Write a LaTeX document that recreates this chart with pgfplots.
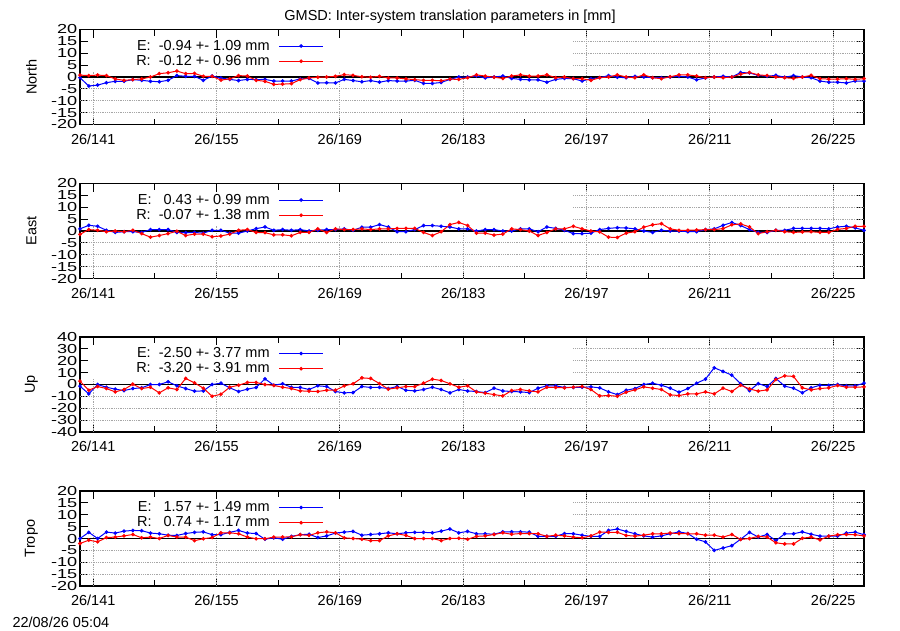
\documentclass[border=0pt]{standalone}
\usepackage{fontspec}
\setmainfont{Liberation Sans}
\usepackage{graphicx}
\usepackage{pgfplots}
\usepackage{pgfplotstable}
\pgfplotsset{compat=1.18}

% day (decimal), E = Galileo, R = Glonass
\pgfplotstableread{
x E R
139.5 -0.3 0.8
140.5 -3.8 0.6
141.5 -3.4 0.8
142.5 -2.4 0.6
143.5 -1.8 -0.8
144.5 -1.8 -1.4
145.5 -1.1 -1.1
146.5 -1.4 -0.8
147.5 -1.8 0.0
148.5 -2.0 1.4
149.5 -1.4 1.8
150.5 0.6 2.5
151.5 0.3 1.4
152.5 0.3 1.5
153.5 -1.4 0.3
154.5 0.4 0.3
155.5 -0.4 -1.3
156.5 -1.0 -0.8
157.5 -1.5 0.6
158.5 -1.0 0.4
159.5 -1.1 -1.4
160.5 -1.0 -1.8
161.5 -1.7 -3.1
162.5 -1.7 -3.0
163.5 -1.7 -2.8
164.5 -0.8 -1.1
165.5 -0.6 -0.4
166.5 -2.5 -0.1
167.5 -2.4 0.0
168.5 -2.5 0.3
169.5 -1.0 1.0
170.5 -1.5 0.7
171.5 -2.0 0.1
172.5 -1.5 -0.1
173.5 -2.2 0.3
174.5 -1.5 -0.4
175.5 -1.7 -0.4
176.5 -1.7 -0.8
177.5 -1.4 -1.1
178.5 -2.7 -1.4
179.5 -2.7 -1.4
180.5 -2.3 -1.6
181.5 -1.0 -0.9
182.5 0.0 -1.0
183.5 0.0 -0.3
184.5 0.4 0.9
185.5 -0.4 0.4
186.5 0.0 -0.1
187.5 0.4 -0.6
188.5 -0.6 0.4
189.5 -1.0 0.9
190.5 -1.2 0.4
191.5 -1.2 0.4
192.5 -2.2 0.9
193.5 -1.0 -0.3
194.5 -0.6 0.0
195.5 -0.7 -0.7
196.5 -1.7 -0.7
197.5 -0.7 -1.4
198.5 -0.3 -0.3
199.5 0.6 0.0
200.5 -0.1 0.9
201.5 -0.3 0.0
202.5 0.3 -0.3
203.5 0.0 0.9
204.5 -0.3 -0.3
205.5 -0.3 -0.7
206.5 0.0 0.1
207.5 0.3 0.9
208.5 0.0 0.9
209.5 -1.2 0.4
210.5 -0.4 -0.3
211.5 0.0 0.0
212.5 0.3 -0.3
213.5 0.0 0.0
214.5 1.9 1.2
215.5 1.7 1.9
216.5 0.7 0.9
217.5 0.3 0.6
218.5 0.7 0.0
219.5 -0.1 -0.3
220.5 0.6 -0.6
221.5 0.0 0.0
222.5 -0.3 0.7
223.5 -1.7 -0.7
224.5 -2.2 -0.9
225.5 -2.2 -0.9
226.5 -2.5 -0.7
227.5 -1.7 -1.0
228.5 -1.7 -0.7
}\tabnorth

\pgfplotstableread{
x E R
139.5 0.9 -1.4
140.5 2.4 0.6
141.5 2.0 0.3
142.5 0.3 -0.3
143.5 -0.6 0.0
144.5 -0.3 -0.3
145.5 -0.3 0.3
146.5 -0.6 -1.1
147.5 0.6 -2.6
148.5 0.6 -1.9
149.5 0.6 -1.1
150.5 -0.6 -0.1
151.5 -0.7 -1.9
152.5 -0.6 -1.3
153.5 -0.9 -1.3
154.5 0.3 -2.4
155.5 0.3 -2.1
156.5 -0.9 -1.3
157.5 -0.9 0.3
158.5 0.0 0.6
159.5 1.0 -0.6
160.5 1.7 -0.7
161.5 0.3 -1.6
162.5 0.6 -1.6
163.5 0.3 -2.0
164.5 0.6 -0.6
165.5 0.0 -0.6
166.5 0.3 0.9
167.5 0.6 -0.6
168.5 0.6 0.9
169.5 0.9 0.6
170.5 0.3 0.6
171.5 1.6 0.9
172.5 1.6 0.6
173.5 2.7 0.9
174.5 1.7 0.9
175.5 -0.3 1.1
176.5 -0.3 1.1
177.5 0.6 1.1
178.5 2.3 -0.6
179.5 2.3 -1.9
180.5 2.0 -0.3
181.5 1.7 2.7
182.5 0.9 3.6
183.5 0.9 2.3
184.5 0.0 -0.9
185.5 0.6 -0.9
186.5 0.6 -1.7
187.5 0.0 -1.3
188.5 0.0 0.9
189.5 0.9 0.6
190.5 0.9 0.0
191.5 -0.3 -1.9
192.5 1.7 -0.6
193.5 1.1 0.9
194.5 0.3 0.9
195.5 -1.1 2.0
196.5 -1.1 0.9
197.5 -0.9 0.0
198.5 0.6 -0.4
199.5 1.1 -2.6
200.5 1.4 -2.7
201.5 1.3 -0.9
202.5 0.9 -0.3
203.5 0.0 1.6
204.5 -0.6 2.6
205.5 0.3 3.1
206.5 0.0 0.9
207.5 0.0 0.3
208.5 -0.3 0.3
209.5 -0.3 0.4
210.5 0.6 0.6
211.5 0.9 0.6
212.5 2.4 1.0
213.5 3.6 2.6
214.5 2.3 3.0
215.5 0.6 1.7
216.5 -0.6 -1.1
217.5 -0.6 -0.3
218.5 0.3 0.3
219.5 0.3 -0.3
220.5 1.1 -0.6
221.5 1.1 -0.4
222.5 1.1 -0.3
223.5 1.1 -0.6
224.5 0.9 -0.6
225.5 1.7 0.7
226.5 2.0 1.1
227.5 1.3 2.0
228.5 0.3 2.0
}\tabeast

\pgfplotstableread{
x E R
139.5 -1.4 2.8
140.5 -7.9 -4.8
141.5 0.0 -1.7
142.5 -2.3 -3.4
143.5 -3.9 -6.2
144.5 -5.1 -4.2
145.5 -3.4 0.3
146.5 -2.8 -3.4
147.5 0.0 -2.3
148.5 0.0 -7.0
149.5 2.3 -2.8
150.5 -1.1 -4.2
151.5 -3.4 5.1
152.5 -5.6 1.4
153.5 -5.4 -3.1
154.5 0.0 -9.9
155.5 1.1 -8.2
156.5 -2.8 -2.3
157.5 -5.9 -0.6
158.5 -3.9 1.7
159.5 -2.5 1.7
160.5 4.8 0.0
161.5 -0.6 -0.8
162.5 0.6 -2.3
163.5 -2.3 -3.4
164.5 -2.5 -5.4
165.5 -4.2 -5.6
166.5 -1.1 -5.9
167.5 -1.7 -4.8
168.5 -5.9 -4.8
169.5 -7.0 -1.1
170.5 -6.8 0.6
171.5 -1.7 5.6
172.5 -2.5 5.1
173.5 -2.5 0.8
174.5 -3.4 -3.9
175.5 -1.7 -2.8
176.5 -4.8 -1.7
177.5 -5.4 -1.7
178.5 -4.2 1.1
179.5 -2.3 4.5
180.5 -4.2 3.4
181.5 -7.0 0.6
182.5 -4.2 -2.3
183.5 -5.4 -1.1
184.5 -5.9 -6.2
185.5 -6.8 -7.3
186.5 -3.1 -8.5
187.5 -5.4 -9.6
188.5 -5.9 -5.1
189.5 -6.2 -4.2
190.5 -6.8 -5.4
191.5 -3.1 -6.2
192.5 -1.1 -2.3
193.5 -1.1 -2.5
194.5 -2.5 -2.8
195.5 -2.5 -2.3
196.5 -2.3 -1.7
197.5 -2.0 -4.2
198.5 -2.8 -9.6
199.5 -6.2 -9.3
200.5 -8.5 -9.9
201.5 -4.8 -6.5
202.5 -3.4 -4.5
203.5 0.0 -2.0
204.5 1.1 -3.1
205.5 -0.6 -4.2
206.5 -3.1 -8.7
207.5 -6.5 -9.3
208.5 -3.4 -7.9
209.5 1.1 -7.9
210.5 4.5 -6.2
211.5 14.1 -7.9
212.5 11.0 -3.1
213.5 7.9 -5.9
214.5 0.6 -0.6
215.5 -5.1 -3.7
216.5 0.8 -5.6
217.5 -1.7 -4.5
218.5 5.1 4.2
219.5 -1.4 7.3
220.5 -3.1 6.8
221.5 -7.0 -2.8
222.5 -2.8 -4.5
223.5 -0.6 -3.4
224.5 -0.8 -2.8
225.5 0.0 -0.8
226.5 -1.1 -2.3
227.5 -1.1 -2.3
228.5 1.1 -2.0
}\tabup

\pgfplotstableread{
x E R
139.5 0.0 -2.1
140.5 2.6 -0.7
141.5 0.0 -1.4
142.5 2.7 0.4
143.5 2.3 0.6
144.5 3.1 1.1
145.5 3.4 1.7
146.5 3.3 0.3
147.5 2.3 0.6
148.5 2.0 0.0
149.5 1.4 1.3
150.5 1.3 0.6
151.5 2.1 0.6
152.5 2.6 -0.9
153.5 2.8 -0.1
154.5 1.6 0.4
155.5 1.6 2.4
156.5 2.6 2.4
157.5 3.4 2.0
158.5 2.3 0.6
159.5 2.1 -0.1
160.5 -0.3 -0.1
161.5 0.3 0.6
162.5 -0.3 0.6
163.5 0.9 0.7
164.5 1.6 1.6
165.5 1.8 1.3
166.5 0.4 2.4
167.5 1.1 2.8
168.5 2.3 2.4
169.5 2.7 0.3
170.5 3.0 0.0
171.5 1.4 -0.3
172.5 1.7 -0.9
173.5 2.0 -0.9
174.5 2.4 1.1
175.5 2.0 2.0
176.5 2.4 1.3
177.5 2.6 0.0
178.5 2.6 0.0
179.5 2.4 0.0
180.5 3.1 -0.9
181.5 4.0 0.0
182.5 2.4 0.1
183.5 3.0 -0.3
184.5 2.0 0.9
185.5 2.0 1.1
186.5 1.8 1.7
187.5 2.8 2.4
188.5 2.8 1.8
189.5 2.8 2.1
190.5 2.7 2.1
191.5 0.9 2.0
192.5 0.9 0.9
193.5 0.9 1.4
194.5 2.1 1.1
195.5 2.0 0.6
196.5 1.4 0.3
197.5 0.9 1.1
198.5 0.9 2.7
199.5 3.4 2.6
200.5 4.0 2.6
201.5 3.0 1.3
202.5 2.0 1.0
203.5 1.1 1.4
204.5 0.6 2.0
205.5 1.1 2.0
206.5 2.0 2.3
207.5 2.8 2.1
208.5 2.1 2.0
209.5 -0.3 2.0
210.5 -1.4 1.4
211.5 -5.0 1.4
212.5 -4.0 0.6
213.5 -3.0 1.7
214.5 -0.3 -0.4
215.5 2.6 0.0
216.5 0.6 0.9
217.5 1.7 0.6
218.5 -0.9 -1.8
219.5 2.0 -2.3
220.5 2.0 -2.3
221.5 2.8 0.1
222.5 1.8 0.6
223.5 1.0 -0.6
224.5 1.0 1.0
225.5 1.0 1.6
226.5 2.3 1.7
227.5 2.7 1.6
228.5 1.6 1.1
}\tabtropo

\pgfplotsset{
  gm/.style={
    scale only axis, width=784pt, height=95pt,
    xmin=139.5, xmax=228.5,
    xtick={141,155,169,183,197,211,225},
    xticklabels={26/141,26/155,26/169,26/183,26/197,26/211,26/225},
    minor xtick={148,162,176,190,204,218},
    tick align=inside,
    major tick length=8pt, minor tick length=6pt,
    every tick/.append style={black, line width=0.8pt},
    axis line style={line width=1.8pt},
    xticklabel style={anchor=base, inner sep=0pt, yshift=-19.5pt},
    yticklabel style={anchor=east, inner sep=0pt, xshift=-2.5pt},
    yticklabel={\scalebox{1.25}[0.9]{\pgfmathprintnumber[assume math mode=true]{\tick}}},
    legend style={at={(rel axis cs:0.311,0.9)}, anchor=north east,
      draw=none, fill=none, inner sep=0pt, row sep=1.5pt, column sep=8pt,
      nodes={inner sep=1pt}},
    legend cell align=right, legend plot pos=right,
    legend image code/.code={\draw[mark repeat=2,mark phase=2,##1]
      plot coordinates {(0pt,0pt) (22pt,0pt) (44pt,0pt)};},
  },
  eser/.style={blue, line width=1pt, mark=*, mark size=1.3pt, mark options={solid}},
  rser/.style={red, line width=1pt, mark=*, mark size=1.3pt, mark options={solid}},
}
\tikzset{gridl/.style={gray!70, densely dotted, line width=0.8pt}}

% grid of one panel: #1,#2,#3 = grid levels, #4 = lower edge of the key box, #5 = ymax
\newcommand\panelgrid[5]{%
  \draw[gridl] (axis cs:195.5,#1) -- (axis cs:228.5,#1);
  \draw[gridl] (axis cs:195.5,#2) -- (axis cs:228.5,#2);
  \draw[gridl] (axis cs:195.5,#3) -- (axis cs:228.5,#3);
  \draw[gridl] (axis cs:139.5,-#1) -- (axis cs:228.5,-#1);
  \draw[gridl] (axis cs:139.5,-#2) -- (axis cs:228.5,-#2);
  \draw[gridl] (axis cs:139.5,-#3) -- (axis cs:228.5,-#3);
  \draw[gridl] (axis cs:141,-#5) -- (axis cs:141,#4);
  \draw[gridl] (axis cs:155,-#5) -- (axis cs:155,#4);
  \draw[gridl] (axis cs:169,-#5) -- (axis cs:169,#4);
  \draw[gridl] (axis cs:183,-#5) -- (axis cs:183,#4);
  \draw[gridl] (axis cs:197,-#5) -- (axis cs:197,#5);
  \draw[gridl] (axis cs:211,-#5) -- (axis cs:211,#5);
  \draw[gridl] (axis cs:225,-#5) -- (axis cs:225,#5);
  \draw[black, line width=1.6pt] (axis cs:139.5,0) -- (axis cs:228.5,0);
}

\begin{document}
\begin{tikzpicture}[font=\fontsize{14.5}{17}\selectfont]
\useasboundingbox (0,0) rectangle (900pt,-630pt);

\node[anchor=base] at (450pt,-20pt) {GMSD: Inter-system translation parameters in [mm]};
\node[anchor=base west] at (9pt,-627.5pt) {22/08/26 05:04};

\begin{axis}[gm, at={(80pt,-29.5pt)}, anchor=north west,
  ymin=-20, ymax=20, ytick={-20,-15,...,20}]
  \panelgrid{5}{10}{15}{2.5}{20}
  \addplot[eser] table[x=x,y=E] {\tabnorth};
  \addlegendentry{E:\ \ -0.94 +- 1.09 mm}
  \addplot[rser] table[x=x,y=R] {\tabnorth};
  \addlegendentry{R:\ \ -0.12 +- 0.96 mm}
\end{axis}
\node[rotate=90] at (31.5pt,-77pt) {North};

\begin{axis}[gm, at={(80pt,-183.5pt)}, anchor=north west,
  ymin=-20, ymax=20, ytick={-20,-15,...,20}]
  \panelgrid{5}{10}{15}{2.5}{20}
  \addplot[eser] table[x=x,y=E] {\tabeast};
  \addlegendentry{E:\ \ \ 0.43 +- 0.99 mm}
  \addplot[rser] table[x=x,y=R] {\tabeast};
  \addlegendentry{R:\ \ -0.07 +- 1.38 mm}
\end{axis}
\node[rotate=90] at (31.5pt,-231pt) {East};

\begin{axis}[gm, at={(80pt,-337pt)}, anchor=north west,
  ymin=-40, ymax=40, ytick={-40,-30,...,40}]
  \panelgrid{10}{20}{30}{5}{40}
  \addplot[eser] table[x=x,y=E] {\tabup};
  \addlegendentry{E:\ \ -2.50 +- 3.77 mm}
  \addplot[rser] table[x=x,y=R] {\tabup};
  \addlegendentry{R:\ \ -3.20 +- 3.91 mm}
\end{axis}
\node[rotate=90] at (31.5pt,-384.5pt) {Up};

\begin{axis}[gm, at={(80pt,-491pt)}, anchor=north west,
  ymin=-20, ymax=20, ytick={-20,-15,...,20}]
  \panelgrid{5}{10}{15}{2.5}{20}
  \addplot[eser] table[x=x,y=E] {\tabtropo};
  \addlegendentry{E:\ \ \ 1.57 +- 1.49 mm}
  \addplot[rser] table[x=x,y=R] {\tabtropo};
  \addlegendentry{R:\ \ \ 0.74 +- 1.17 mm}
\end{axis}
\node[rotate=90] at (31.5pt,-538.5pt) {Tropo};
\end{tikzpicture}
\end{document}
